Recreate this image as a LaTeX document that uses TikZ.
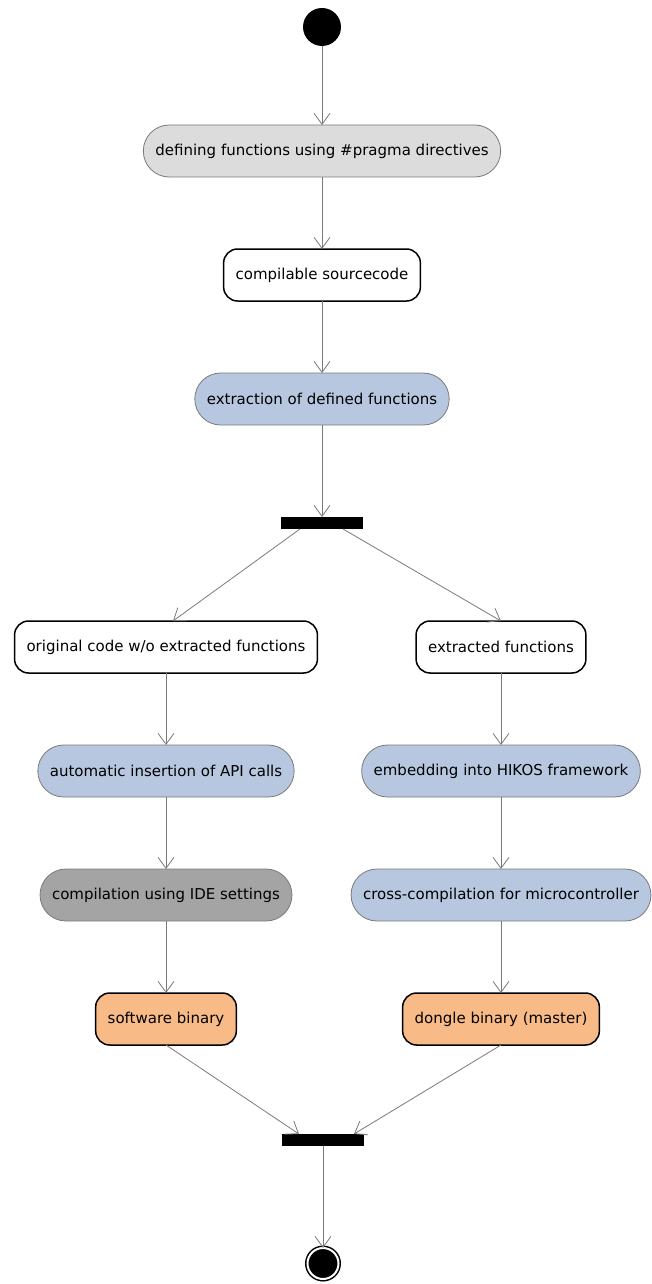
\documentclass[tikz,border=0pt]{standalone}
\usepackage{fontspec}
\setmainfont{DejaVu Sans}
\usepackage{xcolor}
\usetikzlibrary{arrows.meta,positioning}
\definecolor{actgray}{HTML}{DCDCDC}
\definecolor{actblue}{HTML}{B6C7DF}
\definecolor{actdark}{HTML}{A4A4A4}
\definecolor{objorange}{HTML}{F8BA86}
\definecolor{edgegray}{HTML}{7A7A7A}

\begin{document}
\begin{tikzpicture}[
    node distance=72pt,
    every node/.style={minimum height=52pt, inner xsep=12pt, outer sep=0pt, text centered, font=\fontsize{15}{17}\selectfont},
    activity/.style={draw=edgegray, line width=0.8pt, rounded corners=25.9pt},
    object/.style={draw=black, line width=1.5pt, rounded corners=14pt, fill=white},
    bar/.style={fill=black, minimum width=82pt, minimum height=12pt, inner sep=0pt},
    initial/.style={circle, fill=black, minimum size=38pt, inner sep=0pt},
    final/.style={circle, draw=black, fill=black, line width=1.5pt, double=white, double distance=2pt, minimum size=31pt, inner sep=0pt},
    flow/.style={draw=edgegray, line width=0.8pt, -{Straight Barb[length=11pt,width=16pt]}}
]
\useasboundingbox (-322pt,27pt) rectangle (329pt,-1257pt);

\node[initial] (start) at (0,0) {};
\node[activity, fill=actgray, below=79pt of start] (pragma) {defining functions using \#pragma directives};
\node[object, below=of pragma] (source) {compilable sourcecode};
\node[activity, fill=actblue, below=of source] (extract) {extraction of defined functions};
\node[bar, below=92pt of extract] (fork) {};

% two branches below the fork
\node[object, below=92pt of fork, xshift=-156pt] (original) {original code w/o extracted functions};
\node[object, below=92pt of fork, xshift=179pt] (extracted) {extracted functions};
\node[activity, fill=actblue, below=of original] (insertion) {automatic insertion of API calls};
\node[activity, fill=actblue, below=of extracted] (embedding) {embedding into HIKOS framework};
\node[activity, fill=actdark, below=of insertion] (compile) {compilation using IDE settings};
\node[activity, fill=actblue, below=of embedding] (cross) {cross-compilation for microcontroller};
\node[object, fill=objorange, below=of compile] (softbin) {software binary};
\node[object, fill=objorange, below=of cross] (donglebin) {dongle binary (master)};

\node[bar, below=89pt of softbin, xshift=157pt] (join) {};
\node[final, below=102pt of join] (end) {};

\draw[flow] (start) -- (pragma);
\draw[flow] (pragma) -- (source);
\draw[flow] (source) -- (extract);
\draw[flow] (extract) -- (fork);
\draw[flow] ([xshift=-22pt]fork.south) -- ([xshift=7pt]original.north);
\draw[flow] ([xshift=21pt]fork.south) -- (extracted.north);
\draw[flow] (original) -- (insertion);
\draw[flow] (insertion) -- (compile);
\draw[flow] (compile) -- (softbin);
\draw[flow] (extracted) -- (embedding);
\draw[flow] (embedding) -- (cross);
\draw[flow] (cross) -- (donglebin);
\draw[flow] (softbin.south) -- ([xshift=-24pt]join.north);
\draw[flow] (donglebin.south) -- ([xshift=31pt]join.north);
\draw[flow] (join) -- (end);

\end{tikzpicture}
\end{document}
